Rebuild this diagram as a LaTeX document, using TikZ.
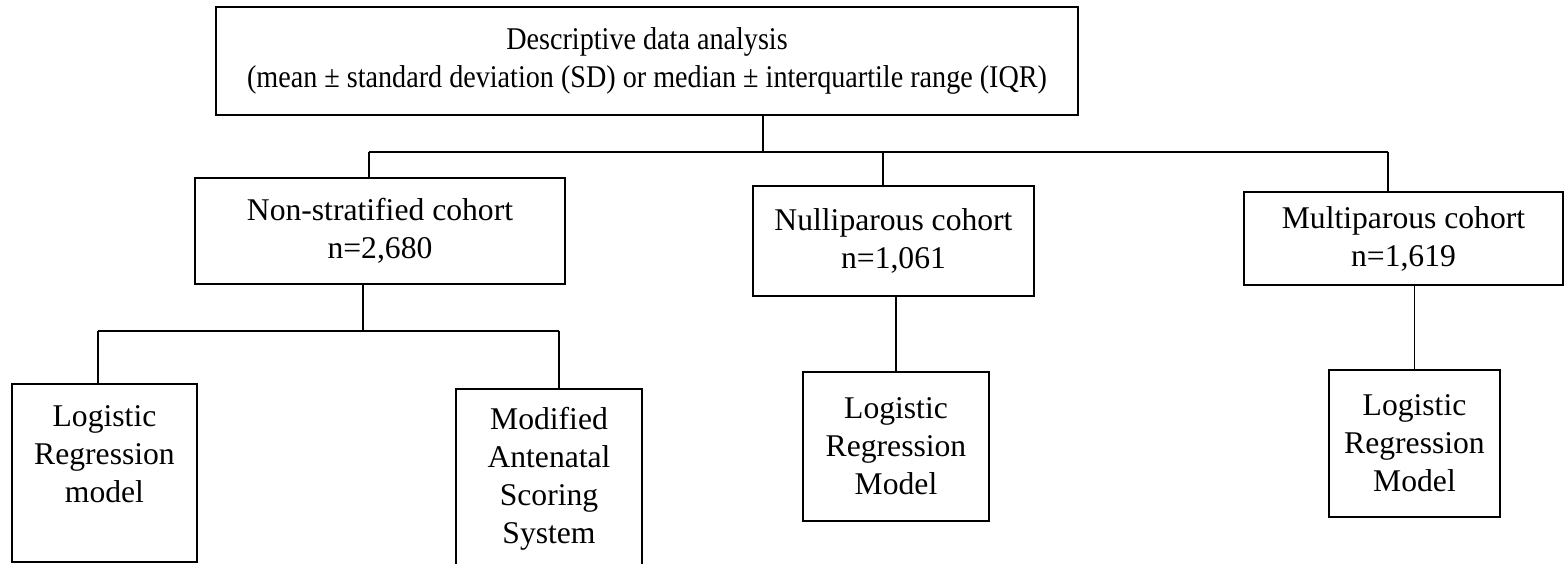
\documentclass[tikz,border=0pt]{standalone}
\usepackage{fontspec}
\setmainfont{Liberation Serif}
\newfontfamily\narrowserif[FakeStretch=0.89]{Liberation Serif}
\usepackage{tikz}
\usetikzlibrary{positioning}

\begin{document}
\begin{tikzpicture}[
  x=0.02cm, y=-0.02cm,
  box/.style={draw, line width=0.8pt, inner sep=0pt, align=center, font=\fontsize{18}{21.6}\selectfont},
  link/.style={line width=0.8pt}
]
\useasboundingbox (0,0) rectangle (1566,564);

% Top level
\node[box, font=\narrowserif\fontsize{18}{21.6}\selectfont, minimum width=17.24cm, minimum height=2.16cm] (descr) at (647,61)
  {Descriptive data analysis\\(mean ± standard deviation (SD) or median ± interquartile range (IQR)};

% Cohorts
\node[box, minimum width=7.40cm, minimum height=2.12cm] (allcoh) at (380,231) {Non-stratified cohort\\n=2,680};
\node[box, minimum width=5.62cm, minimum height=2.20cm] (nullcoh) at (893.5,241) {Nulliparous cohort\\n=1,061};
\node[box, minimum width=6.38cm, minimum height=1.86cm] (multcoh) at (1403.5,238.5) {Multiparous cohort\\n=1,619};

% Models
\node[box, minimum width=3.70cm, minimum height=3.56cm] (allreg) at (104.5,473) {Logistic\\Regression\\model\\~};
\node[box, minimum width=3.72cm, minimum height=4.20cm] (allscore) at (549,494) {Modified\\Antenatal\\Scoring\\System\\~};
\node[box, minimum width=3.72cm, minimum height=2.98cm] (nullreg) at (896,446.5) {Logistic\\Regression\\Model};
\node[box, minimum width=3.42cm, minimum height=2.94cm] (multreg) at (1414.5,443.5) {Logistic\\Regression\\Model};

% Branch points
\coordinate (hub) at (763,152);
\coordinate (hubL) at (369,152);
\coordinate (hubM) at (883,152);
\coordinate (hubR) at (1388,152);
\coordinate (fork) at (363,331);
\coordinate (forkL) at (98,331);
\coordinate (forkR) at (559,331);

% Top to cohorts
\draw[link] (descr.south -| hub) -- (hub);
\draw[link] (hubL) -- (hubR);
\draw[link] (hubL) -- (allcoh.north -| hubL);
\draw[link] (hubM) -- (nullcoh.north -| hubM);
\draw[link] (hubR) -- (multcoh.north -| hubR);

% Cohorts to models
\draw[link] (allcoh.south -| fork) -- (fork);
\draw[link] (forkL) -- (forkR);
\draw[link] (forkL) -- (allreg.north -| forkL);
\draw[link] (forkR) -- (allscore.north -| forkR);
\draw[link] (nullcoh.south -| nullreg.north) -- (nullreg.north);
\draw[link] (multcoh.south -| multreg.north) -- (multreg.north);
\end{tikzpicture}
\end{document}
